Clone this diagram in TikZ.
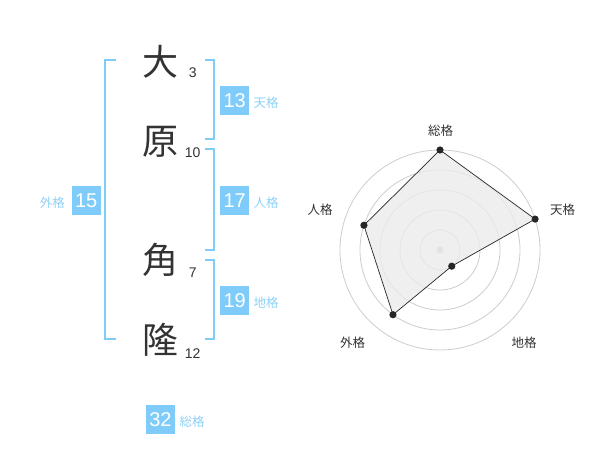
\documentclass[tikz,border=0pt]{standalone}
\usepackage{fontspec}
\setmainfont{Liberation Sans}
\newfontfamily\jp{Noto Sans CJK JP}
\usetikzlibrary{positioning}
\definecolor{kaku}{HTML}{7FCCFA}
\definecolor{kakutxt}{HTML}{8ED1F7}

\begin{document}
\begin{tikzpicture}[x=1pt,y=-1pt]
\tikzset{Kanji/.style = {font=\jp\fontsize{36}{36}\selectfont,
		text = black!80, inner sep = 0pt},
	Stroke/.style = {font=\fontsize{14}{14}\selectfont,
		text = black!80, inner sep = 0pt},
	Score/.style = {fill = kaku, text = white,
		minimum size = 29pt, inner sep = 0pt,
		font=\fontsize{20}{20}\selectfont},
	KakuName/.style = {text = kakutxt, inner sep = 0pt,
		font=\jp\fontsize{12.5}{12.5}\selectfont},
	Bracket/.style = {draw = kaku, line width = 2pt},
	AxisName/.style = {text = black!80, inner sep = 0pt,
		font=\jp\fontsize{12.5}{12.5}\selectfont}}
\useasboundingbox (0,0) rectangle (600,470);
% name
\node[Kanji] (dai) at (160,62) {大};
\node[Kanji] (hara) at (160,142) {原};
\node[Kanji] (kado) at (160,260) {角};
\node[Kanji] (taka) at (160,340) {隆};
\node[Stroke] (n3) at (192.7,72.7) {3};
\node[Stroke] (n10) at (192.7,152.7) {10};
\node[Stroke] (n7) at (192.7,272.7) {7};
\node[Stroke] (n12) at (192.7,353.3) {12};
% brackets
\draw[Bracket] (116,60) -- (105,60) -- (105,339.3) -- (116,339.3);
\draw[Bracket] (205,60) -- (214.3,60) -- (214.3,139.3) -- (205,139.3);
\draw[Bracket] (205,149.3) -- (214.3,149.3) -- (214.3,250) -- (205,250);
\draw[Bracket] (205,260) -- (214.3,260) -- (214.3,339.3) -- (205,339.3);
% scores
\node[Score] (ten) at (234.7,100.5) {13};
\node[Score] (jin) at (234.7,200.5) {17};
\node[Score] (chi) at (234.7,300.5) {19};
\node[Score] (gai) at (86.2,200.5) {15};
\node[Score] (so) at (160.5,419.5) {32};
\node[KakuName, base right=4pt of ten] {天格};
\node[KakuName, base right=4pt of jin] {人格};
\node[KakuName, base right=4pt of chi] {地格};
\node[KakuName, base left=6.5pt of gai] {外格};
\node[KakuName, base right=4.3pt of so] {総格};
% chart
\begin{scope}[shift={(440,250)}, y=1pt]
\foreach \r in {20,40,...,100}
	\draw[black!20, line width=0.8pt] (0,0) circle[radius=\r pt];
\fill[black!22] (0,0) circle[radius=3.5pt];
\coordinate (pso) at (90:100);
\coordinate (pten) at (18:100);
\coordinate (pchi) at (-54:20);
\coordinate (pgai) at (-126:80);
\coordinate (pjin) at (162:80);
\filldraw[fill=black!8, fill opacity=0.8, draw=black!85, line width=0.7pt]
	(pso) -- (pten) -- (pchi) -- (pgai) -- (pjin) -- cycle;
\foreach \p in {pso,pten,pchi,pgai,pjin}
	\fill[black!85] (\p) circle[radius=3.6pt];
\node[AxisName] (lso) at (0.7,119.3) {総格};
\node[AxisName] (lten) at (122.7,40.7) {天格};
\node[AxisName] (lchi) at (84,-92.7) {地格};
\node[AxisName] (lgai) at (-87.3,-92.7) {外格};
\node[AxisName] (ljin) at (-120,40.7) {人格};
\end{scope}
\end{tikzpicture}
\end{document}
